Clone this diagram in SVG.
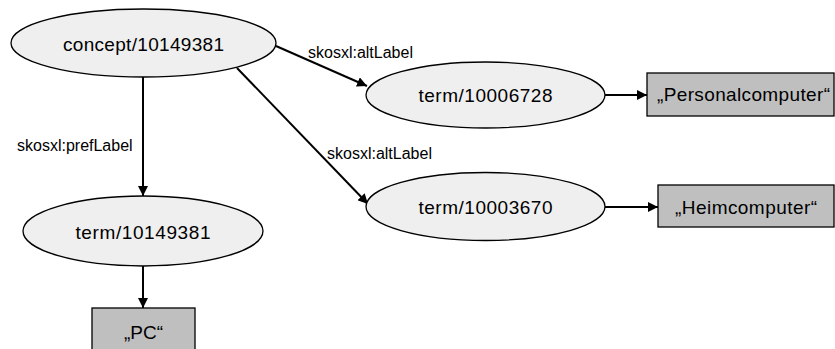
<svg xmlns="http://www.w3.org/2000/svg" width="835" height="349" viewBox="0 0 835 349">
<style>
.n{fill:#efefef;stroke:#000;stroke-width:1.3}
.b{fill:#bfbfbf;stroke:#000;stroke-width:1.3}
.t{font-family:"Liberation Sans",Arial,sans-serif;font-size:19px;fill:#000;text-anchor:middle;dominant-baseline:central}
.l{font-family:"Liberation Sans",Arial,sans-serif;font-size:16px;fill:#000}
.c{stroke:#000;stroke-width:2;fill:none;marker-end:url(#a)}
</style>
<defs>
<marker id="a" viewBox="0 0 10 10" refX="10" refY="5" markerWidth="5" markerHeight="5" orient="auto" markerUnits="strokeWidth">
<path d="M0,0 L10,5 L0,10 z" fill="#000"/>
</marker>
</defs>
<g id="connectors">
<line class="c" x1="143" y1="77" x2="143" y2="196"/>
<line class="c" x1="143" y1="266" x2="143" y2="308"/>
<line class="c" x1="276" y1="46" x2="367" y2="86"/>
<line class="c" x1="237" y1="68" x2="368" y2="204"/>
<line class="c" x1="605" y1="95" x2="647" y2="95"/>
<line class="c" x1="605" y1="207" x2="658" y2="207"/>
<text class="l" x="308" y="58">skosxl:altLabel</text>
<text class="l" x="327" y="159">skosxl:altLabel</text>
<text class="l" x="17" y="151">skosxl:prefLabel</text>
</g>
<g id="concept">
<ellipse class="n" cx="143.5" cy="43" rx="132.5" ry="34"/>
<text class="t" x="143.5" y="44" textLength="161">concept/10149381</text>
</g>
<g id="term10006728">
<ellipse class="n" cx="485.5" cy="95" rx="119.5" ry="33"/>
<text class="t" x="485.5" y="95" textLength="134">term/10006728</text>
</g>
<g id="term10003670">
<ellipse class="n" cx="485.5" cy="206.5" rx="119.5" ry="34"/>
<text class="t" x="485.5" y="207" textLength="134">term/10003670</text>
</g>
<g id="term10149381">
<ellipse class="n" cx="143" cy="231" rx="120" ry="35"/>
<text class="t" x="143" y="232" textLength="135">term/10149381</text>
</g>
<g id="personalcomputer">
<rect class="b" x="647" y="73" width="187" height="43"/>
<text class="t" x="743.5" y="94" textLength="173">„Personalcomputer“</text>
</g>
<g id="heimcomputer">
<rect class="b" x="658" y="185" width="176" height="42"/>
<text class="t" x="746" y="207" textLength="142">„Heimcomputer“</text>
</g>
<g id="pc">
<rect class="b" x="92" y="308" width="103" height="45"/>
<text class="t" x="143.5" y="332">„PC“</text>
</g>
</svg>
